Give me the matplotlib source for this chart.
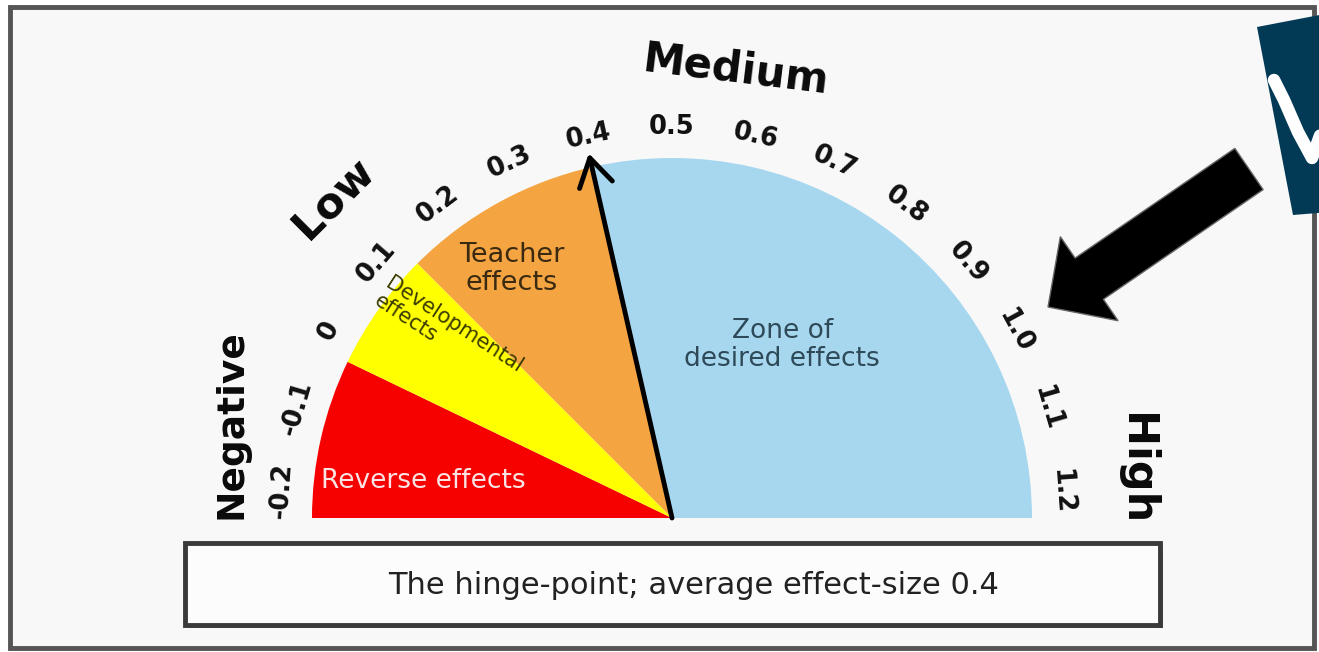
import numpy as np
import matplotlib
matplotlib.use("Agg")
import matplotlib.pyplot as plt
from matplotlib.patches import Wedge, Rectangle, Polygon, FancyArrow

plt.rcParams['font.family'] = ['DejaVu Sans']

# gauge scale
vmin, vmax = -0.2, 1.2
tick_values = [-0.2, -0.1, 0.0, 0.1, 0.2, 0.3, 0.4, 0.5, 0.6, 0.7, 0.8, 0.9, 1.0, 1.1, 1.2]
tick_labels = ['-0.2', '-0.1', '0', '0.1', '0.2', '0.3', '0.4', '0.5', '0.6',
               '0.7', '0.8', '0.9', '1.0', '1.1', '1.2']

# zones of the dial
zone_edges = [-0.2, 0.0, 0.15, 0.4, 1.2]
zone_names = ['Reverse effects', 'Developmental\neffects', 'Teacher\neffects',
              'Zone of\ndesired effects']
zone_colors = ['#f60000', '#ffff00', '#f4a541', '#a7d7ef']
zone_text_colors = ['#fbe3e3', '#3c3c00', '#3b2a12', '#2e4a58']

band_names = ['Negative', 'Low', 'Medium', 'High']
hinge_value = 0.4
caption = 'The hinge-point; average effect-size 0.4'

W, H = 1319, 652
cx, cy = 672, H - 518
R = 360


def wedge_angle(v):
    return 180.0 - (v - vmin) / (vmax - vmin) * 180.0


def label_angle(v):
    # labels sit a little inside the dial ends
    return 176.0 - (v - vmin) / (vmax - vmin) * 172.0


def polar(ang, r):
    a = np.radians(ang)
    return cx + r * np.cos(a), cy + r * np.sin(a)


fig = plt.figure(figsize=(W / 100, H / 100), dpi=100, facecolor='#ffffff')
ax = fig.add_axes([0, 0, 1, 1])
ax.set_xlim(0, W)
ax.set_ylim(0, H)
ax.axis('off')

# outer frame
ax.add_patch(Rectangle((10, H - 648), 1304, 641, facecolor='#f8f8f8',
                       edgecolor='#555555', lw=3.5, zorder=0))

# zones
for i, name in enumerate(zone_names):
    t1 = wedge_angle(zone_edges[i + 1])
    t2 = wedge_angle(zone_edges[i])
    ax.add_patch(Wedge((cx, cy), R, t1, t2, facecolor=zone_colors[i],
                       edgecolor='none', zorder=2))

# zone captions (angle, radius, rotation, size)
zone_layout = [(171.5, 251, 0, 19), (140.5, 290, -33, 15),
               (122.8, 296, 0, 19.5), (57.5, 205, 0, 19)]
for name, col, (a, r, rot, fs) in zip(zone_names, zone_text_colors, zone_layout):
    x, y = polar(a, r)
    ax.text(x, y, name, color=col, fontsize=fs, ha='center', va='center',
            rotation=rot, rotation_mode='anchor', linespacing=1.1,
            multialignment='left' if rot else 'center', zorder=4)

# tick labels around the arc
for v, lab in zip(tick_values, tick_labels):
    a = label_angle(v)
    x, y = polar(a, 391)
    ax.text(x, y, lab, fontsize=18.5, fontweight='bold', color='#111111',
            ha='center', va='center', rotation=a - 90,
            rotation_mode='anchor', zorder=4)

# band names (angle, radius, rotation, size)
band_layout = [(168, 450, 90, 27), (136.6, 466, 45, 31), (82, 452, -7, 30),
               (6, 467, -90, 31)]
for name, (a, r, rot, fs) in zip(band_names, band_layout):
    x, y = polar(a, r)
    ax.text(x, y, name, fontsize=fs, fontweight='bold', color='#0a0a0a',
            ha='center', va='center', rotation=rot, rotation_mode='anchor',
            zorder=4)

# hinge needle
tip = polar(wedge_angle(hinge_value), 374)
ax.annotate('', xy=tip, xytext=(cx, cy),
            arrowprops=dict(arrowstyle='->, head_length=0.9, head_width=0.55',
                            lw=3.5, color='#000000', mutation_scale=22,
                            shrinkA=0, shrinkB=0), zorder=5)

# caption box with shadow
ax.add_patch(Rectangle((188, H - 628), 975, 82, facecolor='#777777',
                       edgecolor='none', zorder=2))
ax.add_patch(Rectangle((185, H - 625), 975, 82, facecolor='#fcfcfc',
                       edgecolor='#3a3a3a', lw=3.5, zorder=3))
ax.text(694, H - 585, caption, fontsize=22, color='#222222',
        ha='center', va='center', zorder=4)

# logo corner
ax.add_patch(Polygon([(1257, H - 27), (1330, H - 13), (1330, H - 212),
                      (1293, H - 215)], closed=True, facecolor='#023a56',
                     edgecolor='none', zorder=3))
ax.plot([1274, 1284, 1298, 1312, 1322], [H - 80, H - 100, H - 132, H - 158, H - 130],
        color='white', lw=9, solid_capstyle='round', zorder=4)

# pointer arrow
ax.add_patch(FancyArrow(1249, H - 169, -201, -138, width=50, head_width=102,
                        head_length=50, length_includes_head=True,
                        facecolor='#000000', edgecolor='#666666', lw=1,
                        zorder=5))

fig.savefig('out.png', dpi=100, facecolor=fig.get_facecolor())
